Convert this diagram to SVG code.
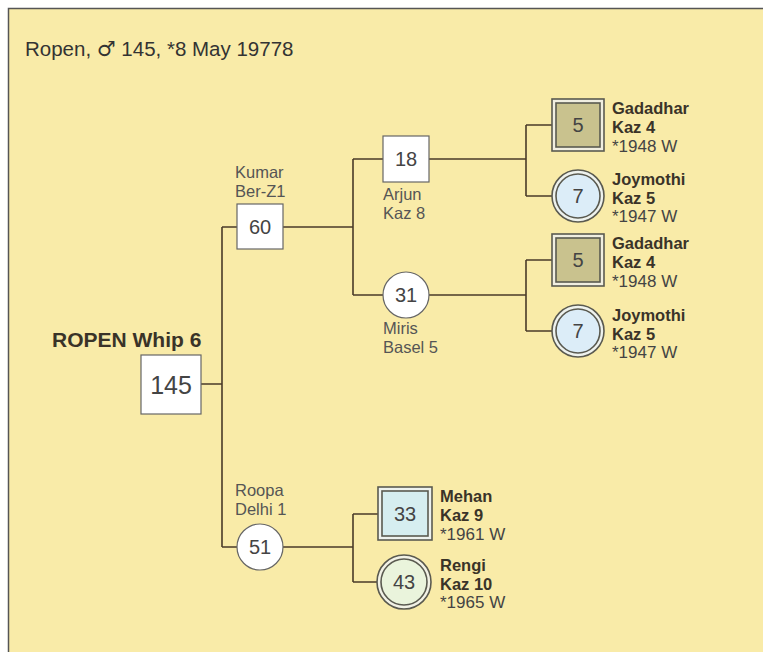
<svg xmlns="http://www.w3.org/2000/svg" width="763" height="652" viewBox="0 0 763 652">
<style>
text{font-family:"Liberation Sans",Arial,sans-serif;fill:#333}
.lbl{font-size:16.5px;fill:#555}
.num{font-size:20px;text-anchor:middle;fill:#444}
.nm{font-size:16.5px;font-weight:bold;fill:#3a3328}
.dt{font-size:17px;fill:#444}
.box{fill:#fff;stroke:#666;stroke-width:1.2}
.con{fill:none;stroke:#4a3b28;stroke-width:1.6}
.dbl{stroke:#5a5a50;stroke-width:1.6}
</style>
<rect x="0" y="0" width="763" height="652" fill="#fff"/>
<rect x="8" y="8" width="755" height="644" fill="#f9eba8"/>
<path d="M8.5 652 V8.5 H763" fill="none" stroke="#555" stroke-width="1.5"/>
<text x="25" y="56" style="font-size:20.5px;fill:#333">Ropen, <tspan style="font-family:'DejaVu Sans',sans-serif;font-size:21px">♂</tspan> 145, *8 May 19778</text>

<g id="connectors" class="con">
<path d="M201 384 H222 M222 227 V547 M222 227 H237 M222 547 H237"/>
<path d="M283 227 H353 M353 159 V295 M353 159 H383 M353 295 H383"/>
<path d="M429 159 H526 M526 125 V196 M526 125 H552 M526 196 H552"/>
<path d="M429 295 H526 M526 260 V331 M526 260 H552 M526 331 H552"/>
<path d="M283 547 H353 M353 514 V582 M353 514 H378 M353 582 H377"/>
</g>

<g id="n145">
<text x="52" y="347" style="font-size:21px;font-weight:bold;fill:#3a3328">ROPEN Whip 6</text>
<rect class="box" x="141" y="355" width="60" height="59"/>
<text class="num" x="171" y="394" style="font-size:25px">145</text>
</g>

<g id="n60">
<text class="lbl" x="235" y="178">Kumar</text>
<text class="lbl" x="235" y="197">Ber-Z1</text>
<rect class="box" x="237" y="204" width="46" height="45"/>
<text class="num" x="260" y="234">60</text>
</g>

<g id="n51">
<text class="lbl" x="235" y="496">Roopa</text>
<text class="lbl" x="235" y="515">Delhi 1</text>
<circle class="box" cx="260" cy="547" r="23"/>
<text class="num" x="260" y="554">51</text>
</g>

<g id="n18">
<rect class="box" x="383" y="136" width="46" height="46"/>
<text class="num" x="406" y="166">18</text>
<text class="lbl" x="383" y="200">Arjun</text>
<text class="lbl" x="383" y="219">Kaz 8</text>
</g>

<g id="n31">
<circle class="box" cx="406" cy="295" r="23"/>
<text class="num" x="406" y="302">31</text>
<text class="lbl" x="383" y="334">Miris</text>
<text class="lbl" x="383" y="353">Basel 5</text>
</g>

<g id="n5a">
<rect class="dbl" x="552" y="99" width="52" height="52" fill="#f0eee0"/>
<rect class="dbl" x="556" y="103" width="44" height="44" fill="#c9c28e" stroke-width="1.2"/>
<text class="num" x="578" y="132">5</text>
<text class="nm" x="612" y="114">Gadadhar</text>
<text class="nm" x="612" y="133">Kaz 4</text>
<text class="dt" x="612" y="152">*1948 W</text>
</g>

<g id="n7a">
<circle class="dbl" cx="578" cy="196" r="26" fill="#eef2ee"/>
<circle class="dbl" cx="578" cy="196" r="22" fill="#dcedf8" stroke-width="1.2"/>
<text class="num" x="578" y="203">7</text>
<text class="nm" x="612" y="185">Joymothi</text>
<text class="nm" x="612" y="204">Kaz 5</text>
<text class="dt" x="612" y="222">*1947 W</text>
</g>

<g id="n5b">
<rect class="dbl" x="552" y="234" width="52" height="52" fill="#f0eee0"/>
<rect class="dbl" x="556" y="238" width="44" height="44" fill="#c9c28e" stroke-width="1.2"/>
<text class="num" x="578" y="267">5</text>
<text class="nm" x="612" y="249">Gadadhar</text>
<text class="nm" x="612" y="268">Kaz 4</text>
<text class="dt" x="612" y="287">*1948 W</text>
</g>

<g id="n7b">
<circle class="dbl" cx="578" cy="331" r="26" fill="#eef2ee"/>
<circle class="dbl" cx="578" cy="331" r="22" fill="#dcedf8" stroke-width="1.2"/>
<text class="num" x="578" y="338">7</text>
<text class="nm" x="612" y="321">Joymothi</text>
<text class="nm" x="612" y="340">Kaz 5</text>
<text class="dt" x="612" y="358">*1947 W</text>
</g>

<g id="n33">
<rect class="dbl" x="378" y="487" width="54" height="53" fill="#eef2ee"/>
<rect class="dbl" x="382" y="491" width="46" height="45" fill="#d6eef0" stroke-width="1.2"/>
<text class="num" x="405" y="521">33</text>
<text class="nm" x="440" y="502">Mehan</text>
<text class="nm" x="440" y="521">Kaz 9</text>
<text class="dt" x="440" y="540">*1961 W</text>
</g>

<g id="n43">
<circle class="dbl" cx="404" cy="582" r="27" fill="#f2f2e6"/>
<circle class="dbl" cx="404" cy="582" r="23" fill="#eaf4dc" stroke-width="1.2"/>
<text class="num" x="404" y="589">43</text>
<text class="nm" x="440" y="571">Rengi</text>
<text class="nm" x="440" y="590">Kaz 10</text>
<text class="dt" x="440" y="608">*1965 W</text>
</g>
</svg>
